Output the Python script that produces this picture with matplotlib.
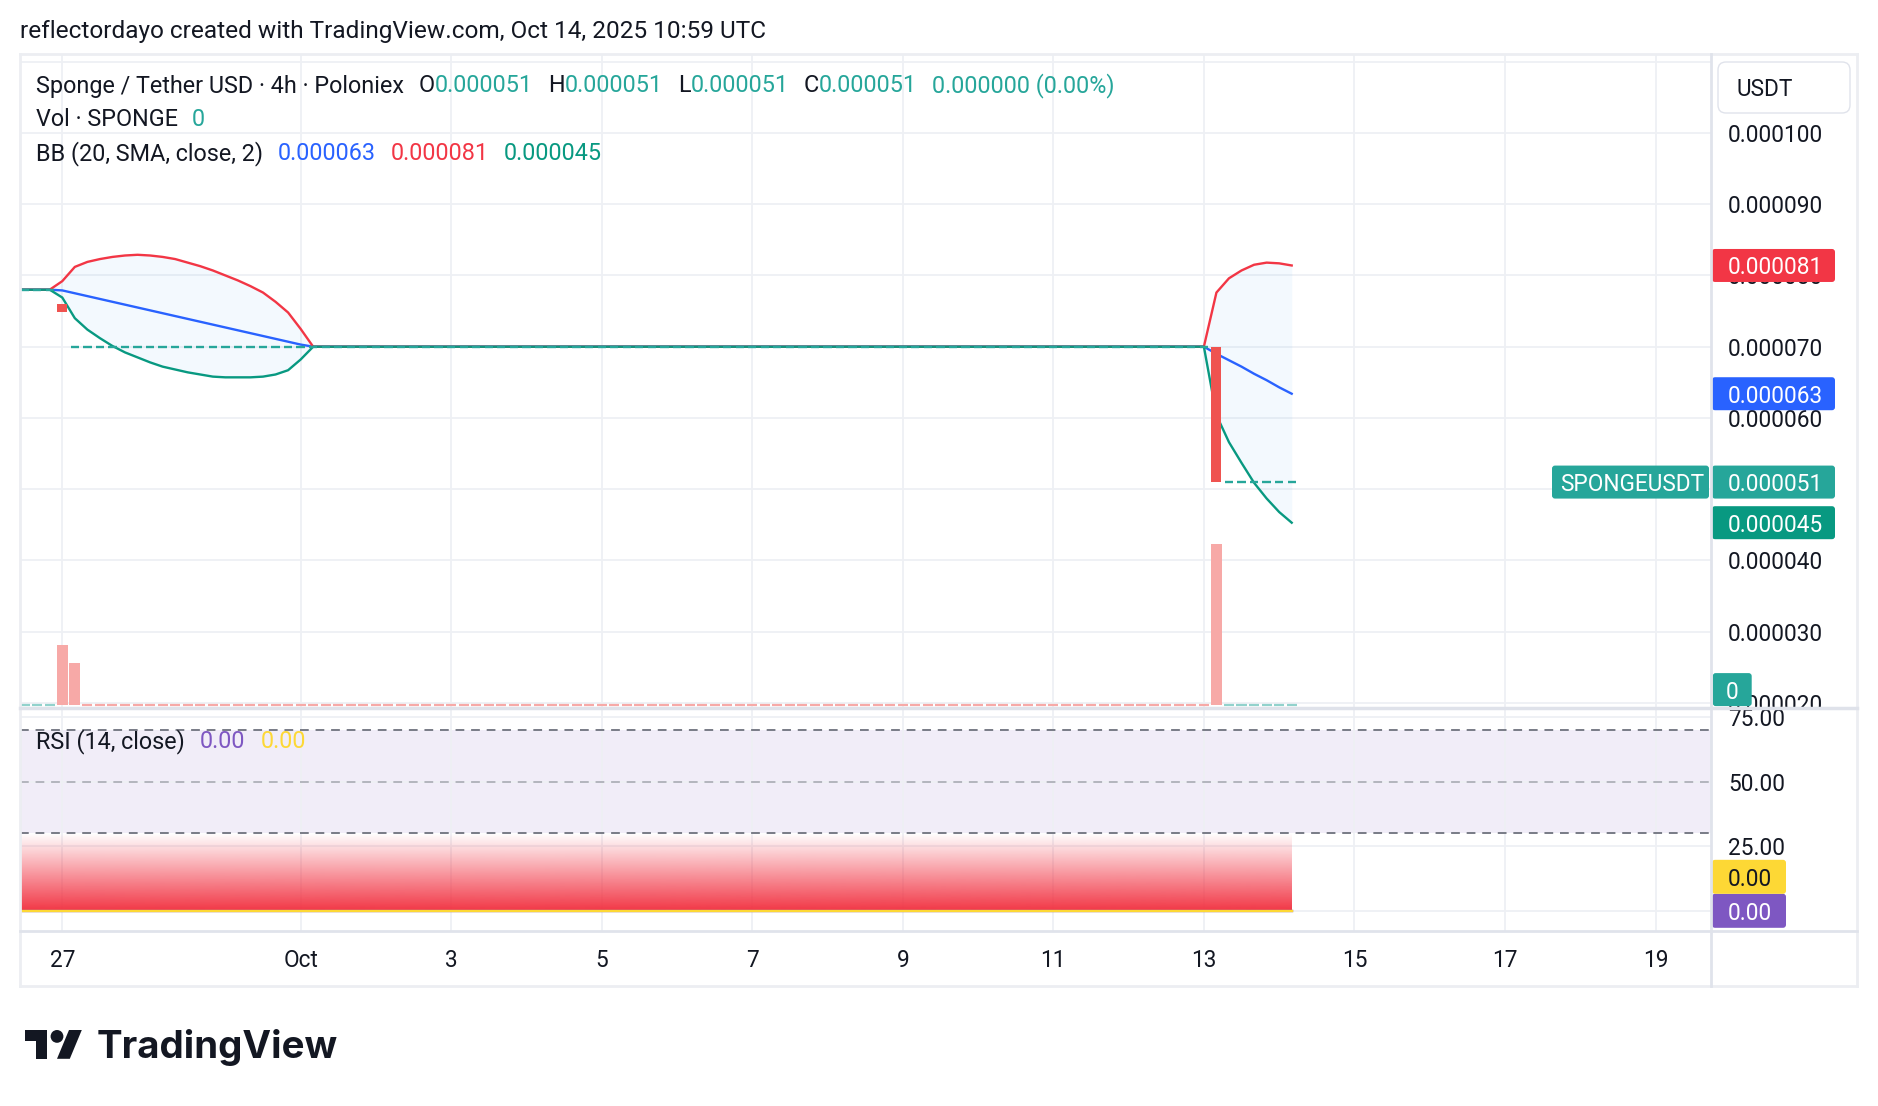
import numpy as np
import matplotlib
matplotlib.use("Agg")
import matplotlib.pyplot as plt
from matplotlib.patches import Rectangle, FancyBboxPatch, Polygon, Circle
from matplotlib.lines import Line2D
from matplotlib.transforms import IdentityTransform, offset_copy
from matplotlib.colors import to_rgb

W, H = 1878, 1106
FONT = "Roboto"
INK = "#131722"
TEAL, TEAL_DARK, RED, BLUE = "#26a69a", "#089981", "#f23645", "#2962ff"
CANDLE_RED = "#ef5350"
PURPLE, YELLOW = "#7e57c2", "#fdd835"
GRID = "#eef0f4"
DY = 2.5  # digits sit a bit low in TradingView's centred labels

# x = bar number, one step = one 4h bar, 0 = Oct 1 00:00 (feed gaps are skipped)
bars = np.arange(-23, 80)

# candles, in 1e-5 USDT
opens = [7.8] * 4 + [7.60] + [7.0] * 92 + [5.1] * 6
closes = [7.8] * 4 + [7.49] + [7.0] * 91 + [5.1] * 7

# Bollinger Bands (20, SMA, close, 2), in 1e-5 USDT
bb_upper = [7.80] * 4 + [7.92, 8.12, 8.19, 8.23, 8.26, 8.28, 8.29, 8.28, 8.26, 8.23, 8.18,
                         8.13, 8.07, 8.00, 7.93, 7.85, 7.76, 7.63, 7.48, 7.25, 7.00] \
    + [7.0] * 71 + [7.76, 7.96, 8.07, 8.15, 8.18, 8.17, 8.14]
bb_mid = [7.80] * 4 + [7.79, 7.75, 7.71, 7.67, 7.63, 7.59, 7.55, 7.51, 7.47, 7.43, 7.39,
                       7.35, 7.31, 7.27, 7.23, 7.19, 7.15, 7.11, 7.07, 7.03, 7.00] \
    + [7.0] * 71 + [6.90, 6.81, 6.72, 6.62, 6.53, 6.43, 6.34]
bb_lower = [7.80] * 4 + [7.69, 7.40, 7.24, 7.12, 7.01, 6.92, 6.85, 6.78, 6.72, 6.68, 6.64,
                         6.61, 6.58, 6.57, 6.57, 6.57, 6.58, 6.61, 6.67, 6.82, 7.00] \
    + [7.0] * 71 + [6.04, 5.66, 5.37, 5.09, 4.87, 4.68, 4.53]

# volume (SPONGE): only three bars traded
vol_bars = [-19, -18, 73]
vol_values = [3.0e6, 2.1e6, 8.05e6]
vol_up = [True] * 4 + [False] * 93 + [True] * 6

# RSI (14) and its moving average
rsi = [0.0] * 103
rsi_ma = [0.0] * 103

tick_idx = [-19, 0, 12, 24, 36, 48, 60, 72, 84, 96, 108]
tick_labels = ["27", "Oct", "3", "5", "7", "9", "11", "13", "15", "17", "19"]
price_ticks = [2, 3, 4, 5, 6, 7, 8, 9, 10, 11]
price_labels_shown = [2, 3, 4, 5, 6, 7, 8, 9, 10]
rsi_ticks = [0, 25, 50, 75]
rsi_labels_shown = [25, 50, 75]

opens = np.array(opens) * 1e-5
closes = np.array(closes) * 1e-5
bb_upper = np.array(bb_upper) * 1e-5
bb_mid = np.array(bb_mid) * 1e-5
bb_lower = np.array(bb_lower) * 1e-5

plt.rcParams["font.family"] = [FONT, "DejaVu Sans"]

fig = plt.figure(figsize=(W / 100, H / 100), dpi=100)
fig.patch.set_facecolor("white")
ID = IdentityTransform()


def box(l, t, r, b):
    return [l / W, 1 - b / H, (r - l) / W, (b - t) / H]


def ptext(x, y, s, **kw):
    # x, y in pixels from the top left corner
    return fig.text(x, H - y, s, transform=ID, **kw)


def pline(x0, y0, x1, y1, color, lw):
    fig.add_artist(Line2D([x0, x1], [H - y0, H - y1], transform=ID, color=color, lw=lw))


PL, PR, SR = 20, 1710.7, 1857
TOP, MB, RB, BOT = 54, 708.3, 930.7, 986

ax = fig.add_axes(box(PL, TOP, PR, MB))
ax_rsi = fig.add_axes(box(PL, MB, PR, RB), sharex=ax)
ax_ps = fig.add_axes(box(PR, TOP, SR, MB))
ax_rs = fig.add_axes(box(PR, MB, SR, RB))

for a in (ax, ax_rsi):
    for s in a.spines.values():
        s.set_visible(False)
    a.tick_params(length=0, labelbottom=False, labelleft=False)
    a.set_axisbelow(True)

# ---- main pane
LW = 1.7
ax.fill_between(bars, bb_lower, bb_upper, color="#2196f3", alpha=0.05, lw=0, zorder=1)
ax.plot(bars, bb_mid, color=BLUE, lw=LW, zorder=2)
ax.plot(bars, bb_upper, color=RED, lw=LW, zorder=2)
ax.plot(bars, bb_lower, color=TEAL_DARK, lw=LW, zorder=2)
for i, o, c in zip(bars, opens, closes):
    if o == c:
        ax.hlines(c, i - 0.33, i + 0.33, color=TEAL, lw=LW, zorder=3)
    else:
        ax.add_patch(Rectangle((i - 0.4, min(o, c)), 0.8, abs(o - c),
                               color=CANDLE_RED if c < o else TEAL, lw=0, zorder=3))
ax.set_xlim(-22.37, 112.4)
ax.set_ylim(1.925e-5, 11.108e-5)
ax.set_xticks(tick_idx)
ax.set_yticks(np.array(price_ticks) * 1e-5)
ax.grid(True, color=GRID, lw=1.3)

ax_v = ax.twinx()
ax_v.axis("off")
vmax = max(vol_values)
ax_v.set_ylim(-0.0205 * vmax, 4.04 * vmax)
ax_v.bar(vol_bars, vol_values, width=0.85, color="#f7a9a7", lw=0)
for i, up in zip(bars, vol_up):
    if i not in vol_bars:
        ax_v.hlines(0, i - 0.4, i + 0.4, color="#92d2cc" if up else "#f7a9a7", lw=1.6)

# ---- RSI pane
ax_rsi.axhspan(30, 70, color=PURPLE, alpha=0.1, lw=0, zorder=0.5)
grad = np.zeros((256, 1, 4))
grad[..., :3] = to_rgb(RED)
grad[:, 0, 3] = np.linspace(0, 1, 256)
ax_rsi.imshow(grad, extent=[bars[0], bars[-1], 0, 30], aspect="auto", origin="upper", zorder=1)
ax_rsi.axhline(70, color="#787b86", lw=1.4, dashes=(4.5, 3.5), zorder=2)
ax_rsi.axhline(50, color="#787b86", alpha=0.5, lw=1.4, dashes=(4.5, 3.5), zorder=2)
ax_rsi.axhline(30, color="#787b86", lw=1.4, dashes=(4.5, 3.5), zorder=2)
ax_rsi.plot(bars, rsi, color=PURPLE, lw=LW, zorder=3)
ax_rsi.plot(bars, rsi_ma, color=YELLOW, lw=LW, zorder=3)
ax_rsi.set_ylim(-7.7, 78.4)
ax_rsi.set_xlim(-22.37, 112.4)
ax_rsi.set_yticks(rsi_ticks)
ax_rsi.grid(True, color=GRID, lw=1.3)

# ---- price scales
PF = 16.3
lab_x = (1728 - PR) / (SR - PR)
ax_ps.set_ylim(ax.get_ylim())
ax_ps.axis("off")
tr_ps = offset_copy(ax_ps.get_yaxis_transform(), fig=fig, y=-DY, units="dots")
for v in price_labels_shown:
    ax_ps.text(lab_x, v * 1e-5, f"{v * 1e-5:.6f}", transform=tr_ps,
               va="center", ha="left", fontsize=PF, color=INK, clip_on=True)
ax_rs.set_ylim(ax_rsi.get_ylim())
ax_rs.axis("off")
tr_rs = offset_copy(ax_rs.get_yaxis_transform(), fig=fig, y=-DY, units="dots")
for v in rsi_labels_shown:
    ax_rs.text(lab_x, v, f"{v:.2f}", transform=tr_rs,
               va="center", ha="left", fontsize=PF, color=INK, clip_on=True)


def tag(yc, x0, x1, s, fc, tc, tx=1728, h=33):
    # yc in display pixels (origin bottom)
    fig.add_artist(FancyBboxPatch((x0, yc - h / 2), x1 - x0, h, transform=ID,
                                  boxstyle="round,pad=0,rounding_size=3", fc=fc, lw=0))
    fig.text(tx, yc - DY, s, transform=ID, va="center", ha="left", fontsize=PF, color=tc)


def ypix(a, v):
    return a.transData.transform((0, v))[1]


tag(ypix(ax, bb_upper[-1]), 1712, 1835, f"{bb_upper[-1]:.6f}", RED, "white")
tag(ypix(ax, bb_mid[-1]), 1712, 1835, f"{bb_mid[-1]:.6f}", BLUE, "white")
tag(ypix(ax, closes[-1]), 1712, 1835, f"{closes[-1]:.6f}", TEAL, "white")
tag(ypix(ax, bb_lower[-1]), 1712, 1835, f"{bb_lower[-1]:.6f}", TEAL_DARK, "white")
tag(ypix(ax, closes[-1]), 1552, 1709, "SPONGEUSDT", TEAL, "white", tx=1560)
tag(H - 689.6, 1712.7, 1751.7, "0", TEAL, "white", tx=1726)
y0 = ypix(ax_rsi, rsi[-1])
tag(y0, 1712, 1786, f"{rsi[-1]:.2f}", PURPLE, "white", h=34)
tag(y0 + 34, 1712, 1786, f"{rsi_ma[-1]:.2f}", YELLOW, INK, h=34)

fig.add_artist(FancyBboxPatch((1718, H - 113), 132, 51, transform=ID,
                              boxstyle="round,pad=0,rounding_size=8", fc="white",
                              ec="#e0e3eb", lw=1))
ptext(1737, 87 + DY, "USDT", va="center", ha="left", fontsize=PF, color=INK)

# ---- time scale
for i, lab in zip(tick_idx, tick_labels):
    xp = ax.transData.transform((i, 0))[0]
    ptext(xp, 958 + DY, lab, va="center", ha="center", fontsize=PF, color=INK)

# ---- frame
pline(PL, TOP, SR, TOP, "#eceef2", 2)
pline(PL, BOT, SR, BOT, "#eceef2", 2)
pline(PL, TOP, PL, BOT, "#eceef2", 2)
pline(SR, TOP, SR, BOT, "#eceef2", 2)
pline(PR, TOP, PR, BOT, "#e0e3eb", 2)
pline(PL, MB, SR, MB, "#dfe2ea", 2.5)
pline(PL, RB, SR, RB, "#e0e3eb", 2)

# ---- texts
renderer = fig.canvas.get_renderer()


def runs(x, y, parts, size):
    for s, c, gap in parts:
        t = ptext(x, y, s, va="baseline", ha="left", fontsize=size, color=c)
        x += t.get_window_extent(renderer).width + gap


LF = 16.8
ptext(20, 38, "reflectordayo created with TradingView.com, Oct 14, 2025 10:59 UTC",
      va="baseline", ha="left", fontsize=17.6, color=INK)
runs(36, 92.5, [("Sponge / Tether USD · 4h · Poloniex", INK, 15),
                ("O", INK, 0), ("0.000051", TEAL, 15),
                ("H", INK, 0), ("0.000051", TEAL, 15),
                ("L", INK, 0), ("0.000051", TEAL, 15),
                ("C", INK, 0), ("0.000051", TEAL, 15),
                ("0.000000 (0.00%)", TEAL, 0)], LF)
runs(36, 125.5, [("Vol · SPONGE", INK, 14), ("0", TEAL, 0)], LF)
runs(36, 160, [("BB (20, SMA, close, 2)", INK, 15), (f"{bb_mid[-1]:.6f}", BLUE, 15),
               (f"{bb_upper[-1]:.6f}", RED, 15), (f"{bb_lower[-1]:.6f}", TEAL_DARK, 0)], LF)
runs(36, 748, [("RSI (14, close)", INK, 15), (f"{rsi[-1]:.2f}", PURPLE, 15),
               (f"{rsi_ma[-1]:.2f}", YELLOW, 0)], LF)

# ---- TradingView logo
s, ox, oy = 1.6, 25, 1023.6


def lp(pts):
    return [(ox + px * s, H - (oy + py * s)) for px, py in pts]


fig.add_artist(Polygon(lp([(14, 22), (7, 22), (7, 11), (0, 11), (0, 4), (14, 4)]),
                       closed=True, transform=ID, fc=INK, lw=0))
fig.add_artist(Polygon(lp([(28, 22), (20, 22), (27.5, 4), (35.5, 4)]),
                       closed=True, transform=ID, fc=INK, lw=0))
fig.add_artist(Circle((ox + 20 * s, H - (oy + 8 * s)), 4 * s, transform=ID, fc=INK, lw=0))
ptext(97, 1058.5, "TradingView", va="baseline", ha="left", fontsize=27.7,
      family=["Inter", "DejaVu Sans"], weight="bold", color=INK)

fig.savefig("out.png", dpi=100, facecolor="white")
